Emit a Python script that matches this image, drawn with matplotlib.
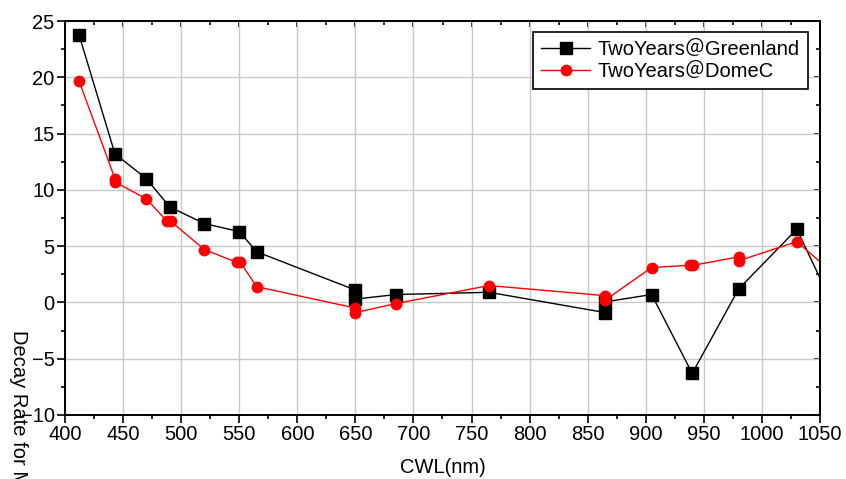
import matplotlib
matplotlib.use("Agg")
import matplotlib.pyplot as plt
from matplotlib.ticker import MultipleLocator

# Data
gl_x = [412, 443, 470, 490, 520, 550, 565, 650, 650, 685, 765, 865, 865, 905, 940, 980, 1030, 1240]
gl_y = [23.8, 13.2, 11.0, 8.5, 7.0, 6.3, 4.5, 1.1, 0.3, 0.7, 0.9, -0.9, 0.05, 0.7, -6.3, 1.2, 6.5, -39.0]

dc_x = [412, 443, 443, 470, 488, 491, 520, 548, 551, 565, 650, 650, 685, 765, 865, 865, 905, 938, 941, 980, 980, 1030, 1240]
dc_y = [19.7, 11.0, 10.7, 9.2, 7.2, 7.2, 4.7, 3.55, 3.55, 1.4, -0.5, -0.9, -0.1, 1.5, 0.6, 0.2, 3.1, 3.3, 3.3, 4.05, 3.7, 5.4, -13.3]

x_ticks = list(range(400, 1051, 50))
y_ticks = list(range(-10, 26, 5))

plt.rcParams['font.family'] = ['Liberation Sans', 'Noto Sans CJK SC', 'DejaVu Sans']

W, H = 846, 479
fig = plt.figure(figsize=(W / 100, H / 100), dpi=100)
ax = fig.add_axes([65 / W, (H - 415) / H, 755 / W, 394 / H])

ax.grid(True, which='major', color='#c8c8c8', lw=1.0)
ax.set_axisbelow(True)

ax.plot(gl_x, gl_y, color='black', lw=1.0, marker='s', ms=8, mfc='black', mec='black',
        label='TwoYears\uff20Greenland')
ax.plot(dc_x, dc_y, color='red', lw=1.0, marker='o', ms=7.5, mfc='red', mec='red',
        label='TwoYears\uff20DomeC')

ax.set_xlim(400, 1050)
ax.set_ylim(-10, 25)
ax.set_xticks(x_ticks)
ax.set_yticks(y_ticks)
ax.xaxis.set_minor_locator(MultipleLocator(25))
ax.yaxis.set_minor_locator(MultipleLocator(2.5))
ax.tick_params(which='both', direction='out', labelsize=14.5, width=1.2, pad=1.5)
ax.tick_params(which='major', length=6)
ax.tick_params(which='minor', length=3)
for s in ax.spines.values():
    s.set_linewidth(1.4)

top = ax.secondary_xaxis('top')
top.set_xticks(x_ticks)
top.xaxis.set_minor_locator(MultipleLocator(25))
top.tick_params(which='both', direction='in', labeltop=False, width=1.2)
top.tick_params(which='major', length=4)
top.tick_params(which='minor', length=3)
top.spines['top'].set_linewidth(1.4)

right = ax.secondary_yaxis('right')
right.set_yticks(y_ticks)
right.yaxis.set_minor_locator(MultipleLocator(2.5))
right.tick_params(which='both', direction='in', labelright=False, width=1.2)
right.tick_params(which='major', length=4)
right.tick_params(which='minor', length=3)
right.spines['right'].set_linewidth(1.4)

ax.set_xlabel('CWL(nm)', fontsize=14.5, labelpad=10)

fig.text(18 / W, 1 - 330 / H, 'Decay Rate for Mean(%)', rotation=270,
         ha='center', va='top', fontsize=14.5)

leg = ax.legend(loc='upper left', bbox_to_anchor=(533 / W, 1 - 32 / H),
                bbox_transform=fig.transFigure, borderaxespad=0,
                fancybox=False, edgecolor='black', framealpha=1,
                fontsize=14.5, handlelength=2.45, handletextpad=0.35,
                labelspacing=0.15, borderpad=0.4)
leg.get_frame().set_linewidth(1.2)

fig.savefig('out.png', dpi=100)
